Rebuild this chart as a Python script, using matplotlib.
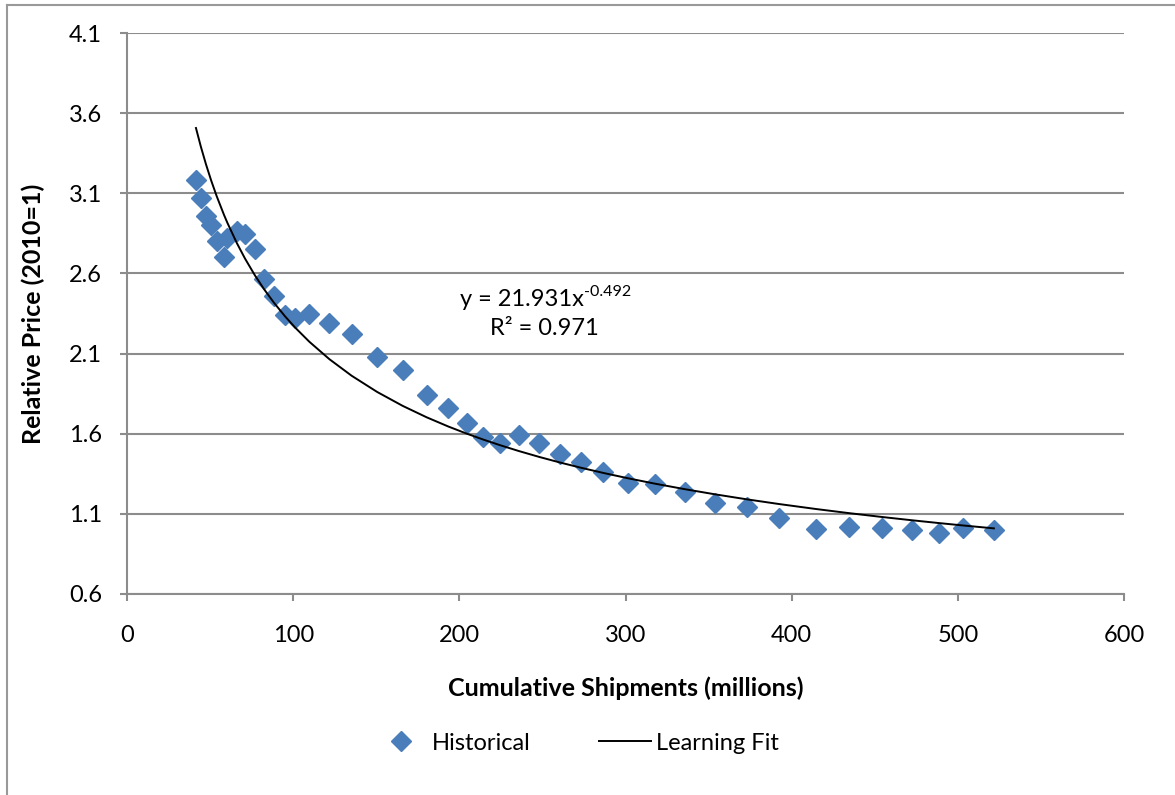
import numpy as np
import matplotlib
matplotlib.use("Agg")
import matplotlib.pyplot as plt
from matplotlib.lines import Line2D
from matplotlib.transforms import IdentityTransform

# 历史数据
shipments = [41.5, 44.4, 47.5, 50.6, 54.0, 58.4, 60.4, 66.0, 71.0, 77.0,
             82.4, 88.4, 95.1, 101.1, 109.7, 121.8, 135.2, 150.6, 165.9, 180.3,
             193.4, 204.4, 214.4, 224.5, 235.9, 248.1, 260.6, 273.2, 286.6, 301.7,
             317.7, 335.8, 353.9, 372.9, 392.6, 414.6, 434.7, 454.2, 472.2, 488.8,
             502.9, 521.7]
rel_price = [3.183, 3.069, 2.960, 2.902, 2.804, 2.700, 2.819, 2.865, 2.844, 2.751,
             2.564, 2.462, 2.341, 2.320, 2.347, 2.289, 2.220, 2.077, 1.998, 1.842,
             1.759, 1.665, 1.582, 1.544, 1.592, 1.544, 1.474, 1.426, 1.363, 1.295,
             1.287, 1.239, 1.170, 1.145, 1.073, 1.006, 1.016, 1.010, 1.000, 0.979,
             1.014, 1.000]

# 趋势线参数（图中公式）
fit_a = 21.931
fit_b = -0.492
fit_r2 = 0.971

x_ticks = [0, 100, 200, 300, 400, 500, 600]
y_ticks = [0.6, 1.1, 1.6, 2.1, 2.6, 3.1, 3.6, 4.1]

plt.rcParams['font.family'] = ['Lato', 'DejaVu Sans']
fs = 17
grid_c = '#8c8c8c'
W, H = 1175, 795

fig = plt.figure(figsize=(W / 100, H / 100), dpi=100)
ax = fig.add_axes([127 / W, 1 - 594 / H, 997 / W, 561 / H])

x = np.array(shipments)
ax.plot(x, rel_price, linestyle='none', marker='D', ms=10, color='#4a7ebb',
        label='Historical', zorder=3)
ax.plot(x, fit_a * x ** fit_b, color='black', lw=1.4, label='Learning Fit', zorder=4)

ax.set_xlim(0, 600)
ax.set_ylim(0.6, 4.1)
ax.set_xticks(x_ticks)
ax.set_yticks(y_ticks)
ax.set_yticklabels([f"{v:.1f}" for v in y_ticks])
ax.grid(axis='y', color=grid_c, lw=1.5)
ax.set_axisbelow(True)
for s in ['top', 'right']:
    ax.spines[s].set_visible(False)
for s in ['left', 'bottom']:
    ax.spines[s].set_color(grid_c)
    ax.spines[s].set_linewidth(1.5)
ax.tick_params(axis='both', colors=grid_c, length=5, width=1.5, labelcolor='black',
               labelsize=fs)
ax.tick_params(axis='y', pad=13)
ax.tick_params(axis='x', pad=17)

ax.set_xlabel('Cumulative Shipments (millions)', fontsize=18, fontweight='bold', labelpad=22)
ax.set_ylabel('Relative Price (2010=1)', fontsize=18, fontweight='bold', labelpad=17)

# 趋势线公式（像素坐标定位）
renderer = fig.canvas.get_renderer()
px = IdentityTransform()
t_main = fig.text(0, 0, f"y = {fit_a}x", fontsize=fs, va='baseline', ha='left', transform=px)
t_sup = fig.text(0, 0, f"{fit_b}", fontsize=11.5, va='baseline', ha='left', transform=px)
w_main = t_main.get_window_extent(renderer).width
w_sup = t_sup.get_window_extent(renderer).width
x0 = 546 - (w_main + w_sup) / 2
t_main.set_position((x0, H - 306.5))
t_sup.set_position((x0 + w_main, H - 296.5))
fig.text(544, H - 335, f"R² = {fit_r2}", fontsize=fs, va='baseline', ha='center', transform=px)

fig.legend(loc='center', bbox_to_anchor=(577 / W, 1 - 743 / H), ncol=2, frameon=False,
           fontsize=fs, handlelength=2.2, columnspacing=2.9, handletextpad=0.2)

# 外框
fig.add_artist(Line2D([7 / W, 7 / W], [0, 1 - 5 / H], color='#999999', lw=1.5,
                      transform=fig.transFigure))
fig.add_artist(Line2D([7 / W, 1], [1 - 5 / H, 1 - 5 / H], color='#999999', lw=1.5,
                      transform=fig.transFigure))

fig.savefig('out.png', dpi=100)
